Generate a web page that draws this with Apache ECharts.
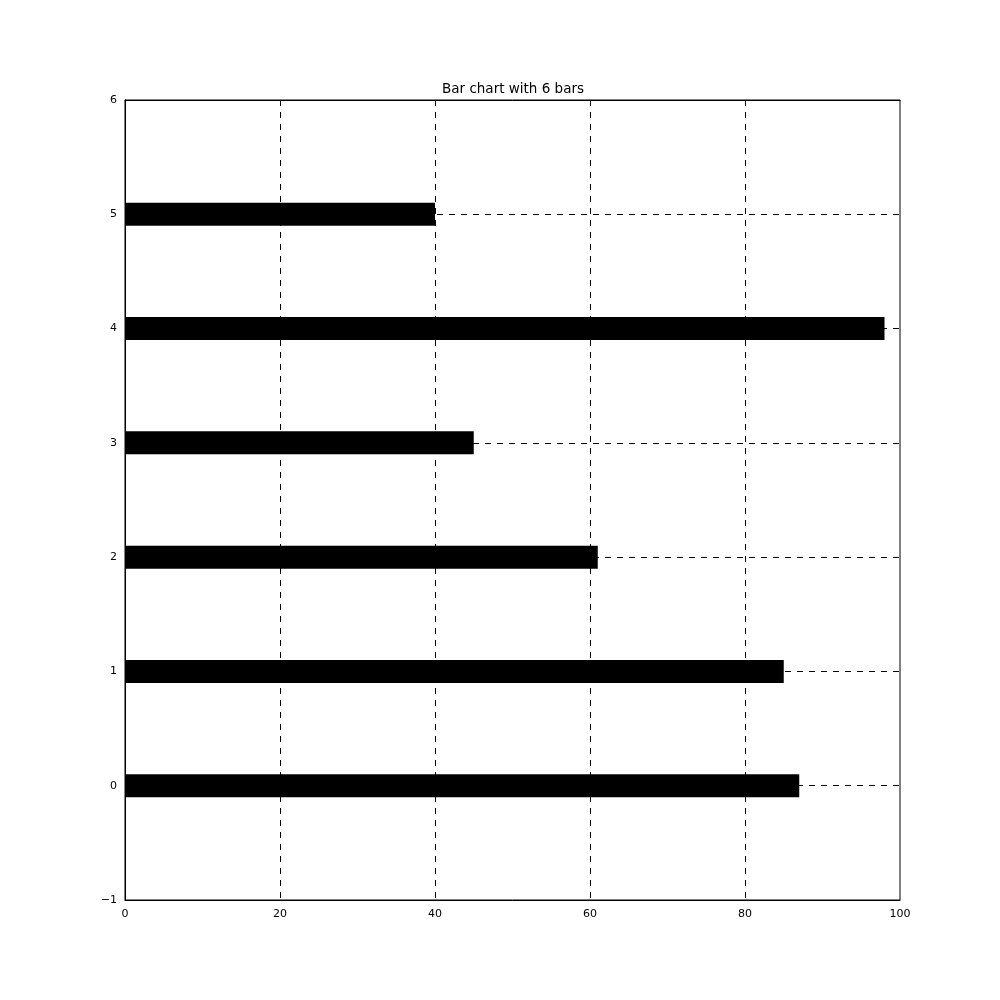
<!DOCTYPE html>
<html>
<head>
<meta charset="utf-8">
<script src="https://cdn.jsdelivr.net/npm/echarts@6/dist/echarts.min.js"></script>
<style>
    html, body { margin: 0; padding: 0; background: #fff; }
    #main { width: 1000px; height: 1000px; }
</style>
</head>
<body>
<div id="main"></div>
<script type="text/javascript">
    // data
    var yTicks = ['\u22121', '0', '1', '2', '3', '4', '5', '6'];
    var barPos = ['0', '1', '2', '3', '4', '5'];
    var barValues = [87, 85, 61, 45, 98, 40];
    var xTicks = [0, 20, 40, 60, 80, 100];

    var font = 'DejaVu Sans';
    var dash = [6, 6];

    var myChart = echarts.init(document.getElementById('main'));
    var option = {
        animation: false,
        backgroundColor: '#fff',
        title: {
            text: 'Bar chart with 6 bars',
            left: 437,
            top: 77,
            textStyle: {fontFamily: font, fontSize: 13.5, fontWeight: 'normal', color: '#000'}
        },
        grid: {
            left: 125, right: 100, top: 100, bottom: 100,
            show: true,
            borderColor: '#000',
            borderWidth: 1
        },
        xAxis: [
            {
                type: 'value',
                min: xTicks[0],
                max: xTicks[xTicks.length - 1],
                interval: 20,
                position: 'bottom',
                axisLine: {show: true, lineStyle: {color: '#000', width: 1}},
                axisTick: {show: false},
                axisLabel: {margin: 9, fontFamily: font, fontSize: 11, color: '#000'},
                splitLine: {show: true, showMinLine: false, showMaxLine: false,
                    lineStyle: {color: '#000', width: 1, type: dash}}
            },
            {
                type: 'value',
                min: xTicks[0],
                max: xTicks[xTicks.length - 1],
                interval: 20,
                position: 'top',
                axisLine: {show: true, lineStyle: {color: '#000', width: 1}},
                axisTick: {show: false},
                axisLabel: {show: false},
                splitLine: {show: false}
            }
        ],
        yAxis: [
            {
                type: 'category',
                data: yTicks,
                boundaryGap: false,
                position: 'left',
                axisLine: {show: true, lineStyle: {color: '#000', width: 1}},
                axisTick: {show: false},
                axisLabel: {margin: 8, fontFamily: font, fontSize: 11, color: '#000'},
                splitLine: {show: true, showMinLine: false, showMaxLine: false,
                    lineStyle: {color: '#000', width: 1, type: dash}}
            },
            {
                type: 'category',
                data: yTicks,
                boundaryGap: false,
                position: 'right',
                axisLine: {show: true, lineStyle: {color: '#000', width: 1}},
                axisTick: {show: false},
                axisLabel: {show: false},
                splitLine: {show: false}
            }
        ],
        series: [
            {
                type: 'bar',
                xAxisIndex: 0,
                yAxisIndex: 0,
                barWidth: 23,
                itemStyle: {color: '#000'},
                data: barValues.map(function (v, i) { return [v, barPos[i]]; })
            }
        ]
    };
    myChart.setOption(option);
</script>
</body>
</html>
